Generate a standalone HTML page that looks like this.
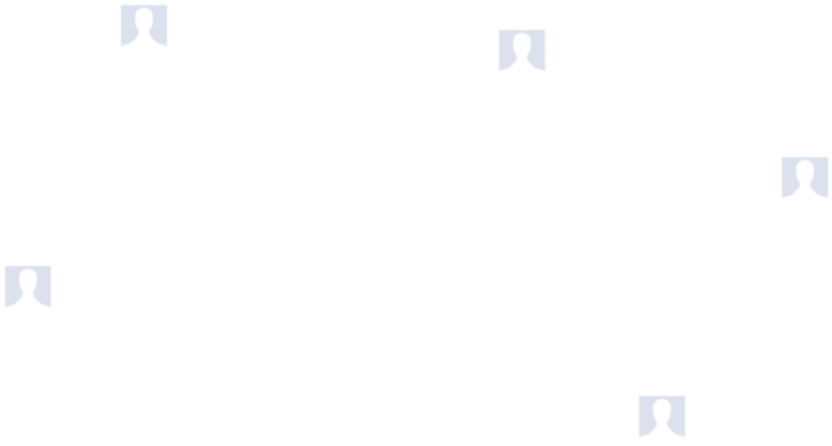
<!DOCTYPE html>
<html><head><meta charset="utf-8"><style>
html,body{margin:0;padding:0;background:#fff;width:832px;height:446px;overflow:hidden;position:relative}
svg.i{position:absolute;width:46px;height:42px;filter:blur(0.8px)}
</style></head><body>
<svg width="0" height="0" style="position:absolute"><defs>
<symbol id="p" viewBox="0 0 46 42">
<path fill="#dce2ed" d="M0 0H46V41L36 38L33 35L29 31L28 26L31 21L32 13C32 6 28 3 23 3C18 3 14 6 14 13L15 21L18 26L17 31L13 35L10 38L0 41Z"/>
</symbol></defs></svg>
<svg class="i" style="left:121px;top:5px"><use href="#p"/></svg>
<svg class="i" style="left:499px;top:30px"><use href="#p"/></svg>
<svg class="i" style="left:782px;top:157px"><use href="#p"/></svg>
<svg class="i" style="left:5px;top:266px"><use href="#p"/></svg>
<svg class="i" style="left:639px;top:396px"><use href="#p"/></svg>
</body></html>
